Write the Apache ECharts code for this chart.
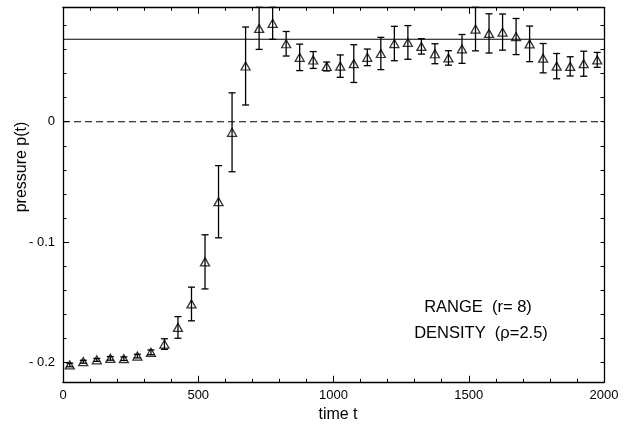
<!DOCTYPE html>
<html><head><meta charset="utf-8">
<script src="https://cdn.jsdelivr.net/npm/echarts@6/dist/echarts.min.js"></script>
<style>html,body{margin:0;padding:0;background:#fff}#c{width:630px;height:425px}</style>
</head><body><div id="c"></div>
<script>
const times = [25,75,125,175,225,275,325,375,425,475,525,575,625,675,725,775,825,875,925,975,
  1025,1075,1125,1175,1225,1275,1325,1375,1425,1475,1525,1575,1625,1675,1725,1775,1825,1875,1925,1975];
const pressure = [-0.2022,-0.1995,-0.1980,-0.1967,-0.1970,-0.1948,-0.1917,-0.1848,-0.1710,-0.1515,
  -0.1165,-0.0665,-0.0088,0.0463,0.0776,0.0818,0.0648,0.0535,0.0513,0.0459,
  0.0462,0.0483,0.0535,0.0567,0.0650,0.0659,0.0626,0.0565,0.0530,0.0605,
  0.0770,0.0734,0.0745,0.0708,0.0647,0.0528,0.0462,0.0460,0.0482,0.0514];
const errors = [0.0015,0.0012,0.0012,0.0015,0.0015,0.0015,0.0020,0.0044,0.0090,0.0140,
  0.0225,0.0300,0.0328,0.0324,0.0175,0.0133,0.0102,0.0110,0.0070,0.0037,
  0.0093,0.0157,0.0069,0.0134,0.0143,0.0140,0.0064,0.0083,0.0060,0.0120,
  0.0181,0.0163,0.0150,0.0150,0.0148,0.0122,0.0105,0.0080,0.0104,0.0062];
const xMajorTicks = [0,500,1000,1500,2000];
const yLabelTicks = [-0.2,-0.1,0];
const yMinorTicks = [-0.2,-0.18,-0.16,-0.14,-0.12,-0.1,-0.08,-0.06,-0.04,-0.02,0,0.02,0.04,0.06,0.08];
const refLevel = 0.0685;
const zeroLevel = 0;
const xName = 'time t';
const yName = 'pressure p(t)';
const annotations = ['RANGE  (r= 8)', 'DENSITY  (\u03c1=2.5)'];

const X_MIN = 0, X_MAX = 2000, Y_MIN = -0.2166, Y_MAX = 0.0951;
const FONT = 'Liberation Sans, Arial, sans-serif';
const black = '#000';

const chart = echarts.init(document.getElementById('c'), null, {renderer: 'canvas'});

const yBase = {type: 'value', min: Y_MIN, max: Y_MAX, splitLine: {show: false}};
const xBase = {type: 'value', min: X_MIN, max: X_MAX, interval: 500, splitLine: {show: false},
  axisLine: {show: true, onZero: false, lineStyle: {color: black, width: 1.3}},
  axisTick: {show: true, inside: true, length: 6.5, lineStyle: {color: black, width: 1}},
  minorTick: {show: true, splitNumber: 5, length: 3.5, lineStyle: {color: black, width: 1}}};

const option = {
  animation: false,
  backgroundColor: '#fff',
  grid: {left: 63, right: 26, top: 7.3, bottom: 42.7, containLabel: false},
  xAxis: [
    Object.assign({}, xBase, {position: 'bottom',
      axisLabel: {show: true, fontSize: 13, fontFamily: FONT, color: black, margin: 7,
        customValues: xMajorTicks, formatter: v => String(v)}}),
    Object.assign({}, xBase, {position: 'top', axisLabel: {show: false}})
  ],
  yAxis: [
    Object.assign({}, yBase, {position: 'left',
      axisLine: {show: true, onZero: false, lineStyle: {color: black, width: 1.3}},
      axisTick: {show: true, inside: true, length: 6, customValues: yLabelTicks, lineStyle: {color: black, width: 1}},
      axisLabel: {show: true, customValues: yLabelTicks, fontSize: 13, fontFamily: FONT, color: black, margin: 8,
        formatter: v => (Math.abs(v) < 1e-9 ? '0' : '- ' + Math.abs(v).toFixed(1))}}),
    Object.assign({}, yBase, {position: 'left',
      axisLine: {show: false, onZero: false},
      axisTick: {show: true, inside: true, length: 3.5, customValues: yMinorTicks, lineStyle: {color: black, width: 1}},
      axisLabel: {show: false}}),
    Object.assign({}, yBase, {position: 'right',
      axisLine: {show: true, onZero: false, lineStyle: {color: black, width: 1.3}},
      axisTick: {show: true, inside: true, length: 3.5, customValues: yMinorTicks, lineStyle: {color: black, width: 1}},
      axisLabel: {show: false}})
  ],
  series: [
    {
      type: 'line', xAxisIndex: 0, yAxisIndex: 0, showSymbol: false, silent: true,
      data: [[X_MIN, refLevel], [X_MAX, refLevel]],
      lineStyle: {color: black, width: 1.1}
    },
    {
      type: 'line', xAxisIndex: 0, yAxisIndex: 0, showSymbol: false, silent: true,
      data: [[X_MIN, zeroLevel], [X_MAX, zeroLevel]],
      lineStyle: {color: black, width: 1.1, type: [7, 4]}
    },
    {
      type: 'custom', xAxisIndex: 0, yAxisIndex: 0,
      data: times.map((t, i) => [t, pressure[i] - errors[i], pressure[i] + errors[i]]),
      encode: {x: 0, y: [1, 2]},
      renderItem: function (params, api) {
        const x = api.value(0);
        const lo = api.coord([x, api.value(1)]);
        const hi = api.coord([x, api.value(2)]);
        const w = 3.5;
        const st = {stroke: black, lineWidth: 1.3};
        return {type: 'group', children: [
          {type: 'line', shape: {x1: lo[0], y1: lo[1], x2: hi[0], y2: hi[1]}, style: st},
          {type: 'line', shape: {x1: lo[0] - w, y1: lo[1], x2: lo[0] + w, y2: lo[1]}, style: st},
          {type: 'line', shape: {x1: hi[0] - w, y1: hi[1], x2: hi[0] + w, y2: hi[1]}, style: st}
        ]};
      }
    },
    {
      type: 'scatter', xAxisIndex: 0, yAxisIndex: 0,
      data: times.map((t, i) => [t, pressure[i]]),
      symbol: 'triangle', symbolSize: [9, 8],
      itemStyle: {color: 'rgba(255,255,255,0)', borderColor: black, borderWidth: 1.3}
    }
  ],
  graphic: [
    {type: 'text', x: 22, y: 167, rotation: Math.PI / 2,
      style: {text: yName, font: '16px ' + FONT, fill: black, textAlign: 'center', textVerticalAlign: 'middle'}},
    {type: 'text', x: 338, y: 415,
      style: {text: xName, font: '16px ' + FONT, fill: black, textAlign: 'center', textVerticalAlign: 'middle'}},
    {type: 'text', x: 478, y: 307,
      style: {text: annotations[0], font: '16.5px ' + FONT, fill: black, textAlign: 'center', textVerticalAlign: 'middle'}},
    {type: 'text', x: 481, y: 333,
      style: {text: annotations[1], font: '16.5px ' + FONT, fill: black, textAlign: 'center', textVerticalAlign: 'middle'}}
  ]
};
chart.setOption(option);
</script>
</body></html>
